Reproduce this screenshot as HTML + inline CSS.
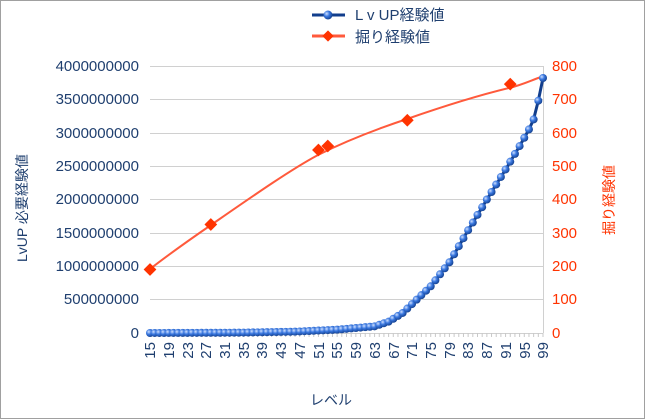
<!DOCTYPE html>
<html><head><meta charset="utf-8"><style>
body{margin:0;background:#fff}
svg{display:block;font-family:"Liberation Sans","Noto Sans CJK JP",sans-serif}
</style></head><body>
<svg id="s" width="645" height="419" viewBox="0 0 645 419" xmlns="http://www.w3.org/2000/svg">
<defs><radialGradient id="g" cx="0.35" cy="0.35" r="0.7"><stop offset="0" stop-color="#cfe0ff"/><stop offset="0.45" stop-color="#3a78e0"/><stop offset="1" stop-color="#123e8c"/></radialGradient></defs>
<rect x="0.5" y="0.5" width="644" height="418" fill="#fff" stroke="#a0a0a0"/>
<g stroke="#d0d0d0" stroke-width="1">
<line x1="150" y1="66.5" x2="543" y2="66.5"/><line x1="150" y1="99.5" x2="543" y2="99.5"/><line x1="150" y1="133.5" x2="543" y2="133.5"/><line x1="150" y1="166.5" x2="543" y2="166.5"/><line x1="150" y1="199.5" x2="543" y2="199.5"/><line x1="150" y1="233.5" x2="543" y2="233.5"/><line x1="150" y1="266.5" x2="543" y2="266.5"/><line x1="150" y1="299.5" x2="543" y2="299.5"/><line x1="150" y1="333.5" x2="543" y2="333.5"/>
<line x1="543.5" y1="66" x2="543.5" y2="333"/>
</g>
<g id="ticks" stroke="#c8c8c8"></g>
<g font-size="15" fill="#1f3f6f" text-anchor="end">
<text x="139" y="71">4000000000</text><text x="139" y="104">3500000000</text><text x="139" y="138">3000000000</text><text x="139" y="171">2500000000</text><text x="139" y="204">2000000000</text><text x="139" y="238">1500000000</text><text x="139" y="271">1000000000</text><text x="139" y="304">500000000</text><text x="139" y="338">0</text>
</g>
<g font-size="15" fill="#ff3300">
<text x="552" y="71">800</text><text x="552" y="104">700</text><text x="552" y="138">600</text><text x="552" y="171">500</text><text x="552" y="204">400</text><text x="552" y="238">300</text><text x="552" y="271">200</text><text x="552" y="304">100</text><text x="552" y="338">0</text>
</g>
<g font-size="15" fill="#1f3f6f" text-anchor="end">
<text transform="translate(155,342) rotate(-90)">15</text><text transform="translate(174,342) rotate(-90)">19</text><text transform="translate(193,342) rotate(-90)">23</text><text transform="translate(211,342) rotate(-90)">27</text><text transform="translate(230,342) rotate(-90)">31</text><text transform="translate(249,342) rotate(-90)">35</text><text transform="translate(267,342) rotate(-90)">39</text><text transform="translate(286,342) rotate(-90)">43</text><text transform="translate(305,342) rotate(-90)">47</text><text transform="translate(324,342) rotate(-90)">51</text><text transform="translate(342,342) rotate(-90)">55</text><text transform="translate(361,342) rotate(-90)">59</text><text transform="translate(380,342) rotate(-90)">63</text><text transform="translate(399,342) rotate(-90)">67</text><text transform="translate(417,342) rotate(-90)">71</text><text transform="translate(436,342) rotate(-90)">75</text><text transform="translate(455,342) rotate(-90)">79</text><text transform="translate(473,342) rotate(-90)">83</text><text transform="translate(492,342) rotate(-90)">87</text><text transform="translate(511,342) rotate(-90)">91</text><text transform="translate(530,342) rotate(-90)">95</text><text transform="translate(548,342) rotate(-90)">99</text>
</g>
<text font-size="14" fill="#1f3f6f" transform="translate(27,262) rotate(-90)">LvUP 必要経験値</text>
<text font-size="14" fill="#ff3300" transform="translate(614,235) rotate(-90)">掘り経験値</text>
<text font-size="14" fill="#1f3f6f" x="310" y="405">レベル</text>
<path d="M150,269 C172,252 195,236 211,225 C250,198 290,170 318,155 C350,139 380,128 407,119 C450,104 480,95 509,88 C522,85 532,80 541,77" fill="none" stroke="#ff5a3c" stroke-width="2"/>
<g id="od" fill="#ff3300"></g>
<polyline id="bl" fill="none" stroke="#123e8c" stroke-width="3"/>
<g id="bd"></g>
<line x1="312" y1="15" x2="345" y2="15" stroke="#123e8c" stroke-width="3"/><circle cx="328" cy="15" r="4.5" fill="url(#g)"/>
<text x="355" y="20" font-size="15" fill="#1f3f6f">L v UP経験値</text>
<line x1="312" y1="36" x2="345" y2="36" stroke="#ff5a3c" stroke-width="3"/><rect x="324" y="32" width="8" height="8" fill="#ff3300" transform="rotate(45 328 36)"/>
<text x="355" y="42" font-size="15" fill="#1f3f6f">掘り経験値</text>
</svg>
<script>
var ns="http://www.w3.org/2000/svg";
function el(t,a,p){var e=document.createElementNS(ns,t);for(var k in a)e.setAttribute(k,a[k]);document.getElementById(p).appendChild(e);}
var dx=(543-150)/84;
for(var i=0;i<=84;i++){var x=150+i*dx;el("line",{x1:x,y1:333,x2:x,y2:337},"ticks");}
var A=[[15,0],[34,0.005],[46,0.02],[55,0.05],[63,0.1],[66,0.17],[69,0.3],[72,0.5],[75,0.7],[79,1.06],[83,1.54],[87,2.0],[91,2.45],[94,2.8],[96,3.05],[97,3.2],[98,3.48],[99,3.82]];
function v(l){for(var j=0;j<A.length-1;j++){if(l<=A[j+1][0]){var t=(l-A[j][0])/(A[j+1][0]-A[j][0]);return A[j][1]+t*(A[j+1][1]-A[j][1]);}}return 3.82;}
var pts=[];
for(var l=15;l<=99;l++){var x=150+(l-15)*dx,y=333-v(l)*66.75;pts.push(x.toFixed(1)+","+y.toFixed(1));el("circle",{cx:x,cy:y,r:4,fill:"url(#g)"},"bd");}
document.getElementById("bl").setAttribute("points",pts.join(" "));
var O=[[15,190],[28,325],[51,548],[53,560],[70,637],[92,745]];
O.forEach(function(o){var x=150+(o[0]-15)*dx,y=333-o[1]*0.334;el("rect",{x:x-4.5,y:y-4.5,width:9,height:9,transform:"rotate(45 "+x+" "+y+")"},"od");});
</script>
</body></html>
